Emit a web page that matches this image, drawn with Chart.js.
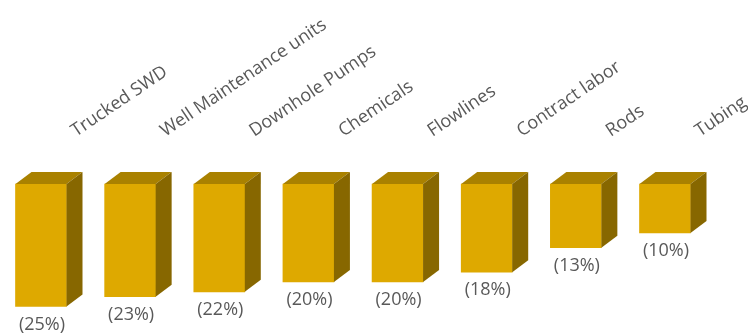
<!DOCTYPE html>
<html>
<head>
<meta charset="utf-8">
<script src="https://cdn.jsdelivr.net/npm/chart.js@4/dist/chart.umd.min.js"></script>
<style>
    html, body { margin: 0; padding: 0; background: #fff; }
    #wrap { width: 748px; height: 333px; position: relative; }
</style>
</head>
<body>
<div id="wrap"><canvas id="costChart"></canvas></div>
<script>
const categories = ['Trucked SWD', 'Well Maintenance units', 'Downhole Pumps', 'Chemicals',
    'Flowlines', 'Contract labor', 'Rods', 'Tubing'];
const shares = [25, 23, 22, 20, 20, 18, 13, 10];
const shareLabels = shares.map(v => `(${v}%)`);

const FRONT = '#DEA900';
const TOP = '#A98100';
const SIDE = '#876700';
const TEXT = '#595959';
const DEPTH_X = 16;
const DEPTH_Y = 12;

// top + side faces for the extruded look, plus value and category text
const boxFaces = {
    id: 'boxFaces',
    afterDatasetsDraw(chart) {
        const ctx = chart.ctx;
        const meta = chart.getDatasetMeta(0);
        ctx.save();
        meta.data.forEach(bar => {
            const p = bar.getProps(['x', 'y', 'base', 'width'], true);
            const l = p.x - p.width / 2, r = p.x + p.width / 2;
            const t = Math.min(p.y, p.base), b = Math.max(p.y, p.base);
            ctx.fillStyle = TOP;
            ctx.beginPath();
            ctx.moveTo(l, t);
            ctx.lineTo(r, t);
            ctx.lineTo(r + DEPTH_X, t - DEPTH_Y);
            ctx.lineTo(l + DEPTH_X, t - DEPTH_Y);
            ctx.closePath();
            ctx.fill();
            ctx.fillStyle = SIDE;
            ctx.beginPath();
            ctx.moveTo(r, t);
            ctx.lineTo(r + DEPTH_X, t - DEPTH_Y);
            ctx.lineTo(r + DEPTH_X, b - DEPTH_Y);
            ctx.lineTo(r, b);
            ctx.closePath();
            ctx.fill();
        });
        ctx.restore();
    },
    afterDraw(chart) {
        const ctx = chart.ctx;
        const meta = chart.getDatasetMeta(0);
        ctx.save();
        ctx.fillStyle = TEXT;
        ctx.font = '18px "Open Sans"';
        ctx.textAlign = 'center';
        ctx.textBaseline = 'middle';
        meta.data.forEach((bar, i) => {
            const p = bar.getProps(['x', 'y', 'base'], true);
            ctx.fillText(shareLabels[i], p.x + 1, Math.max(p.y, p.base) + 18);
        });
        ctx.font = '18px "Open Sans"';
        ctx.textAlign = 'left';
        ctx.textBaseline = 'alphabetic';
        meta.data.forEach((bar, i) => {
            ctx.save();
            ctx.translate(bar.x + 35, 137);
            ctx.rotate(-34 * Math.PI / 180);
            ctx.fillText(categories[i], 0, 0);
            ctx.restore();
        });
        ctx.restore();
    }
};

new Chart(document.getElementById('costChart'), {
    type: 'bar',
    data: {
        labels: categories,
        datasets: [{
            data: shares,
            backgroundColor: FRONT,
            barThickness: 51,
            clip: false
        }]
    },
    options: {
        responsive: true,
        maintainAspectRatio: false,
        animation: false,
        layout: { padding: { top: 184, bottom: 2, left: 41, right: 83 } },
        plugins: { legend: { display: false }, tooltip: { enabled: false } },
        scales: {
            x: { display: false, offset: false },
            y: { display: false, reverse: true, min: 0, max: 30 }
        }
    },
    plugins: [boxFaces]
});
</script>
</body>
</html>
